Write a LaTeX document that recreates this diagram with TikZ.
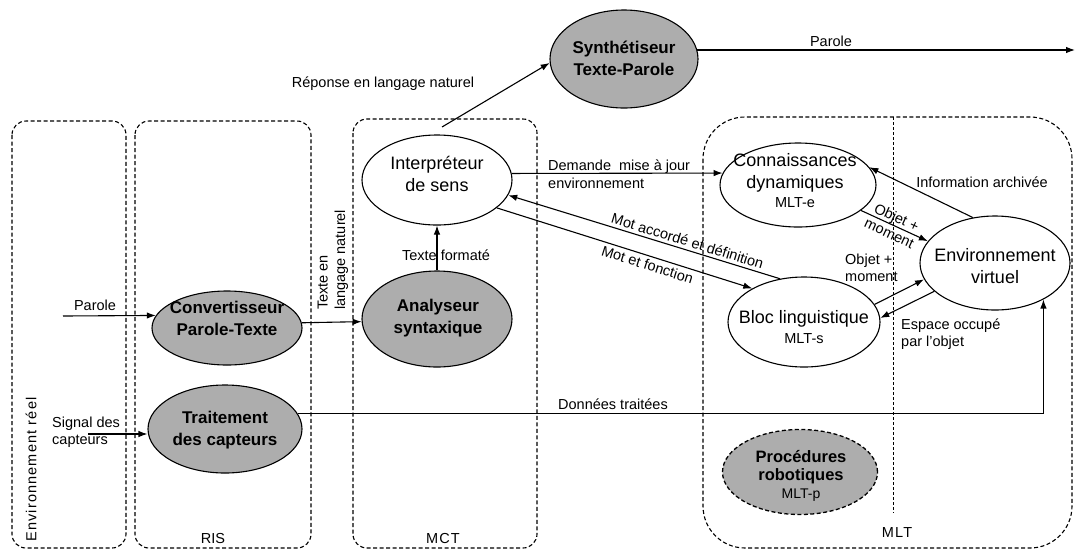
\documentclass[tikz,border=0pt]{standalone}
\usepackage{fontspec}
\setmainfont{Liberation Sans}
\newfontfamily\spacedsans[LetterSpace=8]{Liberation Sans}
\usetikzlibrary{shapes.geometric,arrows.meta}
\definecolor{halftone}{gray}{0.68}
\begin{document}
\begin{tikzpicture}[x=1pt,y=-1pt,
  zone/.style={draw, dash pattern=on 4pt off 2.5pt, line width=1.1pt, rounded corners=14pt},
  divider/.style={draw, dash pattern=on 2.5pt off 2.5pt, line width=0.9pt},
  oval/.style={ellipse, draw, line width=1.1pt, inner sep=0pt},
  whiteoval/.style={oval, fill=white},
  grayoval/.style={oval, fill=halftone},
  ovaltext/.style={align=center, inner sep=0pt, font=\fontsize{18}{22}\selectfont},
  graytext/.style={align=center, inner sep=0pt, font=\bfseries\fontsize{17}{22}\selectfont},
  lbl/.style={inner sep=0pt, font=\fontsize{14.5}{17.5}\selectfont},
  arr/.style={-{Latex[length=9pt,width=6.5pt]}, line width=1.1pt},
]
\useasboundingbox (0,0) rectangle (1076,550);

% ---- zones ----
\draw[zone] (12,121) rectangle (126,548);
\draw[zone] (135,121) rectangle (311,548);
\draw[zone] (353,119) rectangle (537,548);
\draw[zone, rounded corners=42pt] (703,117) rectangle (1072,548);
\coordinate (divtop) at (893,117);
\coordinate (divbot) at (893,513);
\draw[divider] (divtop) -- (divbot);

\node[lbl, rotate=90, anchor=west, font=\spacedsans\fontsize{14.5}{17.5}\selectfont] (envreel) at (31,542) {Environnement réel};
\node[lbl] (ris) at (213,538) {RIS};
\node[lbl, font=\spacedsans\fontsize{14.5}{17.5}\selectfont] (mct) at (443,538) {MCT};
\node[lbl, font=\spacedsans\fontsize{14.5}{17.5}\selectfont] (mlt) at (897,532) {MLT};

% ---- processing blocks ----
\node[grayoval, minimum width=148pt, minimum height=98pt] (synth) at (624,59) {};
\node[graytext] (synth-t) at (624,58) {Synthétiseur\\Texte-Parole};

\node[whiteoval, minimum width=150pt, minimum height=90pt] (interp) at (437,180) {};
\node[ovaltext] (interp-t) at (437,174) {Interpréteur\\de sens};

\node[grayoval, minimum width=150pt, minimum height=96pt] (ana) at (437,319) {};
\node[graytext] (ana-t) at (438,318) {Analyseur\\syntaxique};

\node[grayoval, minimum width=150pt, minimum height=74pt] (conv) at (227,328) {};
\node[graytext] (conv-t) at (227,318) {Convertisseur\\Parole-Texte};

\node[grayoval, minimum width=154pt, minimum height=88pt] (trait) at (225,429) {};
\node[graytext] (trait-t) at (225,430) {Traitement\\des capteurs};

\node[whiteoval, minimum width=156pt, minimum height=84pt] (conn) at (798,185) {};
\node[ovaltext] (conn-t) at (795,181) {Connaissances\\dynamiques\\[-3pt]{\fontsize{14.5}{17}\selectfont MLT-e}};

\node[whiteoval, minimum width=150pt, minimum height=94pt] (envv) at (995,263) {};
\node[ovaltext] (envv-t) at (995,266) {Environnement\\virtuel};

\node[whiteoval, minimum width=152pt, minimum height=90pt] (bloc) at (804,322) {};
\node[ovaltext] (bloc-t) at (804,327) {Bloc linguistique\\[-2pt]{\fontsize{14.5}{17}\selectfont MLT-s}};

\node[grayoval, dash pattern=on 4pt off 2.5pt, line width=1.3pt, minimum width=155pt, minimum height=85pt] (proc) at (800,472) {};
\node[graytext, font=\bfseries\fontsize{16.5}{18}\selectfont] (proc-t) at (801,476) {Procédures\\robotiques\\{\mdseries\fontsize{14}{18}\selectfont MLT-p}};

% ---- free ends ----
\coordinate (pin) at (63,316);
\coordinate (sin) at (88,434);
\coordinate (rtail) at (442,127);
\coordinate (pout) at (1075,50);

% ---- connectors ----
\draw[arr] (pin) -- (conv.170);
\node[lbl] (parole-in) at (95,305) {Parole};

\draw[arr] (sin) -- (sin -| trait.west);
\node[lbl, anchor=west, align=left] (signal) at (52,432) {Signal des\\capteurs};

\draw[arr] (conv.4) -- (ana.182);
\node[lbl, rotate=90, anchor=west, align=left] (texte-nat) at (333,310) {Texte en\\langage naturel};

\draw[arr] (trait.12) -- (trait.12 -| envv.-37) -- (envv.-37);
\node[lbl] (donnees) at (613,404) {Données traitées};

\draw[arr] (ana.north) -- (ana.north |- interp.south);
\node[lbl] (formate) at (446,255) {Texte formaté};

\draw[arr] (rtail) -- (synth.183);
\node[lbl] (reponse) at (383,84) {Réponse en langage naturel};

\draw[arr] (synth.7) -- (synth.7 -| pout);
\node[lbl] (parole-out) at (831,41) {Parole};

\draw[arr] (interp.5) -- (conn.171);
\node[lbl, anchor=west, align=left] (demande) at (548,174) {Demande\ \ mise à jour\\environnement};

\draw[arr] (bloc.119) -- node[lbl, pos=.35, sloped, above=3pt] (accorde) {Mot accordé et définition} (interp.-12);
\draw[arr] (interp.-25) -- node[lbl, pos=.6, sloped, below=3pt] (fonction) {Mot et fonction} (bloc.147);

\draw[arr] (envv.116) -- (conn.14);
\node[lbl] (archive) at (982,182) {Information archivée};

\draw[arr] (conn.-22) -- node[lbl, pos=.48, sloped, align=center] (objet1) {Objet +\\moment} (envv.162);

\draw[arr] (bloc.14) -- (envv.193);
\node[lbl, anchor=west, align=left] (objet2) at (845,268) {Objet +\\moment};

\draw[arr] (envv.205) -- (bloc.3);
\node[lbl, anchor=west, align=left] (espace) at (901,334) {Espace occupé\\par l'objet};

\end{tikzpicture}
\end{document}
